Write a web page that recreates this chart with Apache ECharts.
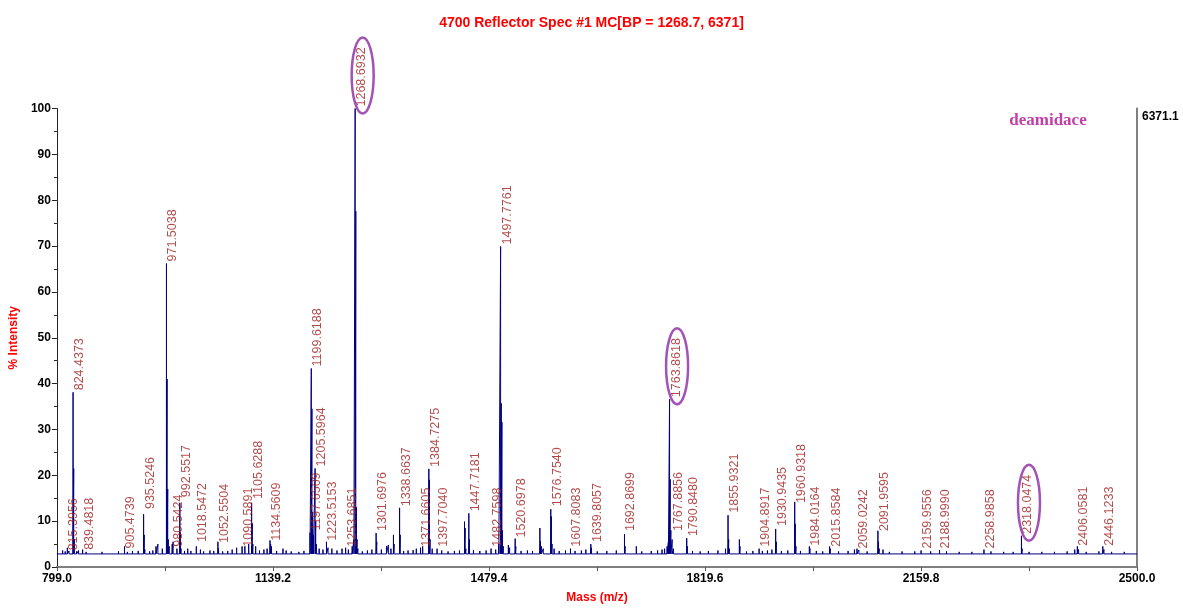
<!DOCTYPE html>
<html>
<head>
<meta charset="utf-8">
<script src="https://cdn.jsdelivr.net/npm/echarts@6/dist/echarts.min.js"></script>
<style>
html,body{margin:0;padding:0;background:#fff;}
#chart{width:1183px;height:609px;}
</style>
</head>
<body>
<div id="chart"></div>
<script>
// ---- data ----
const baselineLevel = 2.85;
const peakMasses = [
  808,812,815.40,818,824.44,825.44,826.44,830,833,839.48,845,852,870,884,896,905.47,910,918,927,
  935.52,936.52,937.5,945,950,955,958,965,971.50,972.50,973.50,974.50,976,980.54,982,988,
  992.55,993.55,994.5,1000,1005,1010,1018.55,1025,1030,1040,1046,1052.55,1053.55,1060,1068,1075,1082,
  1090.59,1095,1101,1105.63,1106.63,1107.6,1112,1118,1125,1130,1134.56,1135.56,1137,1145,1155,1160,1168,
  1180,1188,1197.65,1199.62,1200.62,1201.62,1203,1205.60,1206.60,1207.6,1212,1218,1223.52,1226,1232,1240,
  1248,1253.69,1258,1264,1266.7,1268.69,1269.69,1270.69,1271.69,1273,1280,1288,1295,1301.70,1302.7,1310,
  1318,1321,1325,1329,1330,1338.66,1339.66,1345,1352,1360,1365,1371.66,1375,1384.73,1385.73,1386.73,1390,
  1397.70,1405,1415,1425,1433,1440.9,1441.9,1443,1447.72,1448.72,1455,1465,1475,1482.76,1490,1495,
  1497.78,1498.78,1499.78,1500.78,1502,1510,1512,1520.70,1521.7,1530,1540,1548,1559.6,1560.6,1562,1565,
  1576.75,1577.75,1578.8,1582,1590,1600,1607.81,1615,1625,1632,1639.81,1640.8,1650,1665,1680,1692.87,
  1693.87,1711.5,1720,1735,1745,1752,1756,1760,1762,1763.86,1764.86,1765.86,1767.89,1770,1790.85,1791.85,
  1800,1812,1825,1840,1852,1855.93,1856.93,1858,1873.8,1874.8,1885,1895,1904.89,1910,1918,1925,1930.94,
  1931.94,1940,1950,1960.93,1961.93,1962.93,1970,1984.02,1985,1995,2005,2015.86,2017,2030,2045,2055,
  2059.02,2062,2075,2091.96,2092.96,2094,2100,2110,2130,2150,2159.96,2175,2188.99,2200,2220,2240,2258.99,
  2270,2290,2305,2318.05,2319.05,2330,2350,2370,2390,2402,2406.06,2408,2420,2440,2446.12,2448,2460,2480,2495
];
const peakIntensities = [
  3.6,3.4,4.2,3.5,38.1,21.5,6,3.4,3.6,3.8,3.3,3.2,3.3,3.2,3.4,4.5,3.3,3.5,3.5,
  11.5,7,3.8,3.4,3.6,4.5,5,4,66.2,41,17,6,4.5,5,5.5,4,
  14,7.5,4,3.5,4,3.5,4.5,3.8,3.4,3.6,3.5,5.5,4,3.4,3.5,3.8,4.2,
  4.5,4.5,5,14,9.5,5,4.5,3.6,3.8,4,5.8,5,4.5,3.5,4,3.6,3.4,
  3.3,3.5,7.5,43.3,34.5,12,7,21.5,10,5,4,3.8,5.5,4.2,4,3.6,
  4,4.2,3.8,4.5,6,100,77.6,13,6,4,3.4,3.6,3.8,7.4,5.5,3.8,
  4.5,4.8,4,7,5,12.9,7,3.5,3.6,3.7,4,4.2,4.5,21.4,19,6,4,
  4,3.6,3.4,3.5,3.6,9.9,8.5,4,11.7,6,3.7,3.5,3.6,4,3.8,5,
  69.9,35.7,31.6,8,4.5,4.8,4.2,6.2,4.5,3.5,3.6,3.5,8.5,5.6,4.5,4,
  12.6,11,5,4,3.5,3.6,4,3.5,3.6,3.8,5,4.2,3.4,3.5,3.6,7.2,
  4.5,4.5,3.4,3.5,3.6,3.8,4,4.5,5.5,36.6,19.1,8,6,4,6.3,4.5,
  3.5,3.4,3.5,3.6,4,11.3,6,4,6,4.5,3.4,3.5,4,3.5,3.6,3.8,8.3,
  5.5,3.5,3.6,14.2,9.4,4.5,3.5,4.5,4,3.5,3.4,4.5,4,3.4,3.5,3.8,
  4,3.7,3.4,7.9,5.5,4,3.8,3.3,3.4,3.4,3.6,3.4,3.7,3.4,3.3,3.3,3.8,
  3.4,3.3,3.3,6.8,4,3.3,3.3,3.3,3.4,3.8,4.5,3.8,3.3,3.4,4.5,3.8,3.3,3.3,3.2
];
const labelTexts = [
  '815.3956','824.4373','839.4818','905.4739','935.5246','971.5038','980.5424','992.5517','1018.5472',
  '1052.5504','1090.5891','1105.6288','1134.5609','1197.6509','1199.6188','1205.5964','1223.5153',
  '1253.6851','1268.6932','1301.6976','1338.6637','1371.6605','1384.7275','1397.7040','1447.7181',
  '1482.7598','1497.7761','1520.6978','1576.7540','1607.8083','1639.8057','1692.8699','1763.8618',
  '1767.8856','1790.8480','1855.9321','1904.8917','1930.9435','1960.9318','1984.0164','2015.8584',
  '2059.0242','2091.9595','2159.9556','2188.9990','2258.9858','2318.0474','2406.0581','2446.1233'
];
const labelIntensities = [
  3.2,38.1,3.3,3.6,12.2,66.2,4,14.8,5,
  4.8,4,14.4,5.3,7.5,43.3,21.5,5.3,
  4,100,7.4,12.8,4,21.4,4,11.7,
  4,69.9,6,12.8,4,5,7.4,36.6,
  7.4,6.3,11.4,4,8.5,13.5,4.2,4,
  3.6,7.4,3.6,3.6,3.6,6.8,4.2,4.2
];
const circledLabels = ['1268.6932','1763.8618','2318.0474'];
const xTickStart = 799.0, xTickEnd = 2500.0, xTickStep = 340.2;
const yTickStep = 10;

// ---- build stick spectrum from peak list ----
const order = peakMasses.map((m, i) => i).sort((a, b) => peakMasses[a] - peakMasses[b]);
const spectrum = [[xTickStart, baselineLevel]];
order.forEach(i => {
  const m = peakMasses[i], h = peakIntensities[i];
  spectrum.push([m, baselineLevel], [m, h], [m, baselineLevel]);
});
spectrum.push([xTickEnd, baselineLevel]);

const labelData = labelTexts.map((t, i) => [parseFloat(t), labelIntensities[i], t]);

const chart = echarts.init(document.getElementById('chart'));
const FONT = 'Arial, "Liberation Sans", sans-serif';
const option = {
  animation: false,
  backgroundColor: '#ffffff',
  title: {
    text: '4700 Reflector Spec #1 MC[BP = 1268.7, 6371]',
    left: 'center', top: 11,
    textStyle: { color: '#ff0000', fontSize: 14, fontWeight: 'bold', fontFamily: FONT }
  },
  grid: { left: 54, right: 46, top: 108.5, bottom: 37.5, containLabel: false },
  xAxis: {
    type: 'value', min: xTickStart, max: xTickEnd, interval: xTickStep,
    name: 'Mass (m/z)', nameLocation: 'middle', nameGap: 25,
    nameTextStyle: { color: '#ff0000', fontWeight: 'bold', fontSize: 12, fontFamily: FONT },
    axisLine: { show: true, onZero: false, lineStyle: { color: '#7f7f7f', width: 2 } },
    axisTick: { show: true, length: 4, lineStyle: { color: '#555' } },
    minorTick: { show: true, splitNumber: 2, length: 4, lineStyle: { color: '#555' } },
    splitLine: { show: false },
    axisLabel: {
      color: '#000', fontWeight: 'bold', fontSize: 12, fontFamily: FONT, margin: 6,
      formatter: v => v.toFixed(1), showMaxLabel: true, showMinLabel: true
    }
  },
  yAxis: [{
    type: 'value', min: 0, max: 100, interval: yTickStep,
    name: '% Intensity', nameLocation: 'middle', nameGap: 28, nameRotate: 90,
    nameTextStyle: { color: '#ff0000', fontWeight: 'bold', fontSize: 12, fontFamily: FONT },
    axisLine: { show: true, lineStyle: { color: '#222', width: 1 } },
    axisTick: { show: true, length: 5, lineStyle: { color: '#222' } },
    minorTick: { show: true, splitNumber: 2, length: 3, lineStyle: { color: '#222' } },
    splitLine: { show: false },
    axisLabel: { color: '#000', fontWeight: 'bold', fontSize: 12, fontFamily: FONT, margin: 6 }
  }, {
    type: 'value', min: 0, max: 100, position: 'right',
    axisLine: { show: true, lineStyle: { color: '#808080', width: 2 } },
    axisTick: { show: false }, axisLabel: { show: false }, splitLine: { show: false }
  }],
  series: [{
    type: 'line', data: spectrum, showSymbol: false, symbol: 'none', silent: true,
    sampling: null,
    lineStyle: { color: '#00007f', width: 1 }, z: 2
  }, {
    type: 'scatter', data: labelData, symbolSize: 0, silent: true, z: 3,
    label: {
      show: true, position: 'top', distance: 2, rotate: 90,
      align: 'left', verticalAlign: 'top',
      formatter: p => p.data[2],
      color: '#9e1c1c', fontSize: 12.5, fontFamily: FONT
    }
  }]
};
chart.setOption(option);

// ---- annotations placed from the axes ----
const graphics = [];
circledLabels.forEach(t => {
  const i = labelTexts.indexOf(t);
  const p = chart.convertToPixel({ xAxisIndex: 0, yAxisIndex: 0 }, [parseFloat(t), labelIntensities[i]]);
  graphics.push({
    type: 'ellipse', silent: true, z: 10,
    shape: { cx: p[0] + 7.5, cy: p[1] - 33, rx: 11, ry: 38 },
    style: { fill: null, stroke: '#a352b5', lineWidth: 2.5 }
  });
});
const corner = chart.convertToPixel({ xAxisIndex: 0, yAxisIndex: 0 }, [xTickEnd, 100]);
graphics.push({
  type: 'text', silent: true, x: corner[0] + 5, y: corner[1] + 2,
  style: { text: '6371.1', fill: '#000', font: 'bold 12px ' + FONT, textAlign: 'left', textVerticalAlign: 'top' }
});
graphics.push({
  type: 'text', silent: true, x: corner[0] - 89, y: corner[1] + 12.5,
  style: { text: 'deamidace', fill: '#c040a8', font: 'bold 17px "Liberation Serif", "DejaVu Serif", serif', textAlign: 'center', textVerticalAlign: 'middle' }
});
chart.setOption({ graphic: graphics });
</script>
</body>
</html>
